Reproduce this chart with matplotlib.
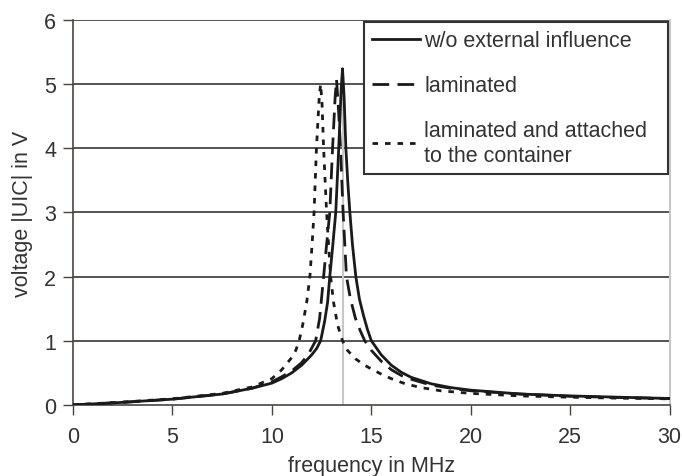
import matplotlib.pyplot as plt
from matplotlib.lines import Line2D

# frequency in MHz / voltage in V
f_free = [0, 2.5, 5, 7.5, 9, 10, 10.5, 11, 11.5, 12, 12.25, 12.45, 12.65, 12.8, 12.91, 13.05,
          13.21, 13.36, 13.48, 13.55, 13.63, 13.72, 13.82, 13.92, 14.05, 14.22, 14.4, 14.6,
          14.8, 15.0, 15.5, 16, 16.5, 17, 18, 19, 20, 22.5, 25, 27.5, 30]
v_free = [0, 0.04, 0.09, 0.17, 0.26, 0.34, 0.41, 0.50, 0.62, 0.78, 0.88, 1.0, 1.3, 1.6, 2.0, 2.45,
          3.0, 4.0, 4.9, 5.24, 4.8, 4.0, 3.45, 3.0, 2.5, 2.0, 1.65, 1.4,
          1.18, 1.0, 0.78, 0.62, 0.51, 0.43, 0.33, 0.27, 0.23, 0.17, 0.14, 0.12, 0.10]

f_lam = [0, 2.5, 5, 7.5, 9, 10, 10.5, 11, 11.5, 11.85, 12.2, 12.4, 12.6, 12.75, 12.91, 13.05,
         13.18, 13.25, 13.35, 13.45, 13.58, 13.75, 13.95, 14.2, 14.45, 14.67, 15.0, 15.5,
         16, 16.5, 17, 18, 19, 20, 22.5, 25, 27.5, 30]
v_lam = [0, 0.04, 0.09, 0.17, 0.26, 0.36, 0.44, 0.53, 0.66, 0.80, 1.0, 1.35, 2.0, 2.5, 3.0, 4.0,
         4.8, 5.07, 4.6, 4.0, 3.0, 2.0, 1.65, 1.35, 1.15, 1.0, 0.85, 0.68,
         0.55, 0.46, 0.40, 0.31, 0.26, 0.22, 0.17, 0.135, 0.115, 0.10]

f_att = [0, 2.5, 5, 7.5, 9, 10, 10.5, 11, 11.2, 11.37, 11.55, 11.75, 11.91, 12.02, 12.12,
         12.24, 12.38, 12.45, 12.52, 12.6, 12.75, 12.85, 12.95, 13.1, 13.3, 13.55, 13.8,
         14.2, 14.6, 15, 15.5, 16, 16.7, 17.5, 18.5, 20, 22.5, 25, 27.5, 30]
v_att = [0, 0.045, 0.095, 0.18, 0.28, 0.41, 0.55, 0.74, 0.85, 1.0, 1.25, 1.6, 2.0, 2.5, 3.0,
         4.0, 4.8, 5.0, 4.7, 4.0, 3.0, 2.5, 2.0, 1.6, 1.25, 1.0, 0.85,
         0.72, 0.63, 0.56, 0.48, 0.41, 0.33, 0.27, 0.22, 0.18, 0.14, 0.12, 0.105, 0.095]

f_mark = 13.55
v_mark = 5.1

plt.rcParams['font.family'] = ['Liberation Sans', 'DejaVu Sans']
txt = '#333333'
fs = 15.5

fig = plt.figure(figsize=(6.82, 4.77), dpi=100)
ax = fig.add_axes([0.107, 0.149, 0.875, 0.807])

for y in range(1, 7):
    ax.axhline(y, color='#4a4440', lw=1.3, zorder=1)
ax.plot([f_mark, f_mark], [0, v_mark], color='#c8c8c8', lw=1.5, zorder=2)

ax.plot(f_free, v_free, color='#1a1a1a', lw=2, ls='-', zorder=3)
ax.plot(f_lam, v_lam, color='#1a1a1a', lw=2, ls=(0, (6, 3)), zorder=3)
ax.plot(f_att, v_att, color='#1a1a1a', lw=2, ls=(0, (2, 2.5)), zorder=3)

ax.set_xlim(0, 30)
ax.set_ylim(0, 6)
ax.set_xticks(range(0, 31, 5))
ax.set_yticks(range(0, 7))
ax.tick_params(direction='out', length=7, width=1, color='#4a4440',
               labelsize=fs, labelcolor=txt, pad=5)
ax.tick_params(axis='x', pad=8)

ax.spines['top'].set_visible(False)
ax.spines['right'].set_color('#c8c8c8')
ax.spines['right'].set_linewidth(1.5)
ax.spines['left'].set_color('#4a4440')
ax.spines['bottom'].set_color('#4a4440')
ax.spines['left'].set_linewidth(1.2)
ax.spines['bottom'].set_linewidth(1.2)

ax.set_xlabel('frequency in MHz', fontsize=fs, color=txt, labelpad=6)
ax.set_ylabel('voltage |UIC| in V', fontsize=fs, color=txt, labelpad=8)

handles = [
    Line2D([], [], color='#1a1a1a', lw=2, ls='-'),
    Line2D([], [], color='#1a1a1a', lw=2, ls=(0, (6, 3))),
    Line2D([], [], color='#1a1a1a', lw=2, ls=(0, (2, 2.5))),
]
labels = ['w/o external influence', 'laminated', 'laminated and attached  \nto the container']
leg = ax.legend(handles, labels, loc='upper right', bbox_to_anchor=(0.9966, 0.996),
                fontsize=fs, frameon=True, fancybox=False, framealpha=1,
                edgecolor='#333333', handlelength=2.2, handletextpad=0.2,
                labelspacing=1.12, borderpad=0.4, borderaxespad=0)
leg.get_frame().set_linewidth(1.5)
for t in leg.get_texts():
    t.set_color(txt)
leg.set_zorder(5)

fig.savefig('out.png', dpi=100)
